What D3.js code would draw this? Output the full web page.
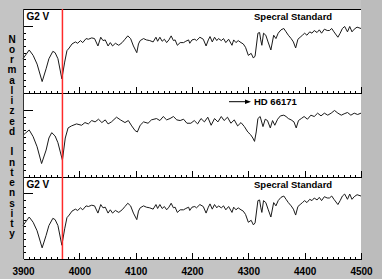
<!DOCTYPE html>
<html>
<head>
<meta charset="UTF-8">
<script src="https://d3js.org/d3.v7.min.js"></script>
<style>
    body { margin: 0; background: #c4c4c4; }
    svg { display: block; }
    text { font-family: "Liberation Sans", Arial, sans-serif; font-weight: bold; fill: #000; }
    .axis path, .axis line { stroke: #000; shape-rendering: crispEdges; }
</style>
</head>
<body>
<div id="chart"></div>
<script>
    // G2 V spectral standard (normalized intensity vs wavelength, Angstrom)
    const stdWave = [3900,3911,3918,3925,3934,3941,3946,3953,3957,3962,3969,3974,3978,3982,3987,3993,3997,4002,4006,4012,4016,4022,4027,4033,4038,4042,4046,4051,4055,4059,4064,4070,4076,4081,4086,4091,4096,4102,4105,4108,4114,4119,4125,4131,4136,4139,4143,4147,4151,4155,4159,4163,4167,4170,4174,4179,4185,4189,4194,4196,4200,4205,4208,4214,4220,4225,4229,4232,4236,4240,4244,4247,4252,4256,4260,4265,4271,4274,4278,4282,4287,4291,4295,4300,4305,4309,4312,4317,4320,4322,4324,4327,4331,4335,4340,4345,4349,4353,4358,4363,4367,4371,4376,4380,4384,4388,4392,4396,4400,4404,4409,4413,4417,4422,4426,4430,4435,4440,4444,4448,4452,4459,4463,4467,4471,4476,4480,4484,4488,4493,4500];
    const stdFlux = [0.51,0.64,0.56,0.43,0.17,0.36,0.51,0.62,0.60,0.51,0.21,0.46,0.63,0.67,0.73,0.76,0.74,0.78,0.75,0.81,0.80,0.82,0.81,0.70,0.83,0.78,0.79,0.70,0.75,0.70,0.74,0.71,0.75,0.80,0.85,0.81,0.70,0.60,0.73,0.78,0.81,0.79,0.78,0.76,0.83,0.77,0.83,0.77,0.80,0.75,0.79,0.85,0.78,0.79,0.71,0.75,0.75,0.77,0.79,0.74,0.79,0.80,0.78,0.83,0.80,0.70,0.79,0.84,0.76,0.83,0.78,0.81,0.78,0.81,0.75,0.80,0.71,0.79,0.75,0.78,0.75,0.73,0.68,0.56,0.59,0.52,0.55,0.89,0.90,0.79,0.71,0.89,0.86,0.76,0.64,0.86,0.81,0.89,0.94,0.96,0.91,0.86,0.81,0.76,0.67,0.80,0.83,0.86,0.89,0.86,0.91,0.89,0.93,0.90,0.94,0.89,0.95,0.93,0.93,0.96,0.91,0.83,0.89,0.96,0.99,0.91,0.99,0.91,0.95,0.98,0.96];

    // HD 66171
    const hdWave = [3900,3904,3911,3918,3925,3933,3941,3946,3951,3957,3962,3970,3975,3980,3986,3995,4004,4010,4016,4022,4028,4034,4040,4046,4051,4057,4066,4073,4081,4087,4093,4099,4103,4108,4114,4122,4128,4137,4143,4149,4155,4161,4167,4173,4179,4185,4191,4198,4204,4210,4216,4222,4228,4234,4240,4246,4252,4257,4263,4269,4275,4281,4287,4293,4299,4304,4308,4311,4314,4317,4321,4326,4330,4334,4339,4343,4347,4352,4357,4363,4367,4371,4376,4381,4385,4389,4394,4399,4405,4411,4417,4423,4429,4435,4441,4447,4453,4459,4465,4470,4476,4482,4488,4494,4500];
    const hdFlux = [0.62,0.65,0.70,0.60,0.45,0.20,0.40,0.58,0.66,0.61,0.51,0.25,0.58,0.73,0.76,0.79,0.77,0.81,0.79,0.84,0.82,0.86,0.81,0.85,0.79,0.82,0.89,0.85,0.81,0.84,0.76,0.69,0.67,0.77,0.82,0.80,0.85,0.87,0.84,0.90,0.85,0.87,0.90,0.85,0.84,0.86,0.80,0.80,0.84,0.79,0.87,0.82,0.89,0.77,0.87,0.82,0.90,0.84,0.89,0.80,0.85,0.76,0.81,0.75,0.67,0.63,0.58,0.53,0.67,0.87,0.90,0.75,0.86,0.84,0.73,0.84,0.77,0.86,0.91,0.92,0.90,0.87,0.85,0.82,0.73,0.84,0.87,0.90,0.86,0.92,0.90,0.95,0.91,0.95,0.92,0.95,0.99,0.95,0.92,0.94,0.96,0.92,0.95,0.93,0.95];

    const tickLabels = [3900, 4000, 4100, 4200, 4300, 4400, 4500];
    const leftLabels = ["G2 V", "", "G2 V"];
    const rightLabels = ["Specral Standard", "HD 66171", "Specral Standard"];
    const yTitle = "Normalized Intensity";
    const markerWave = 3970;

    const width = 382, height = 279;
    const left = 23, right = 361;
    const panelEdges = [9, 93, 177, 259];

    const spectra = [
        d3.zip(stdWave, stdFlux),
        d3.zip(hdWave, hdFlux),
        d3.zip(stdWave, stdFlux)
    ];

    const svg = d3.select("#chart").append("svg")
        .attr("width", width)
        .attr("height", height);

    // darker strip to the right of the plot
    svg.append("rect")
        .attr("x", right).attr("y", 0)
        .attr("width", width - right).attr("height", height)
        .attr("fill", "#bcbcbc");

    svg.append("rect")
        .attr("x", left).attr("y", panelEdges[0])
        .attr("width", right - left)
        .attr("height", panelEdges[3] - panelEdges[0])
        .attr("fill", "#fff");

    const x = d3.scaleLinear().domain([3900, 4500]).range([left, right]);

    spectra.forEach((data, i) => {
        const top = panelEdges[i], bottom = panelEdges[i + 1];
        const y = d3.scaleLinear().domain([0, 1.25]).range([bottom, top]);
        const g = svg.append("g");

        // left ticks (short every 0.1, long at 1.0)
        g.append("g").attr("class", "axis")
            .attr("transform", `translate(${left},0)`)
            .call(d3.axisRight(y).tickValues(d3.range(0.1, 0.95, 0.1)).tickSize(3).tickSizeOuter(0).tickFormat(""))
            .call(a => a.select(".domain").remove());
        g.append("g").attr("class", "axis")
            .attr("transform", `translate(${left},0)`)
            .call(d3.axisRight(y).tickValues([1.0]).tickSize(10).tickFormat(""))
            .call(a => a.select(".domain").remove());

        // bottom ticks, pointing up
        g.append("g").attr("class", "axis")
            .attr("transform", `translate(0,${bottom})`)
            .call(d3.axisBottom(x).tickValues(d3.range(3900, 4501, 10)).tickSize(-2.5).tickSizeOuter(0).tickFormat(""));
        const major = g.append("g").attr("class", "axis")
            .attr("transform", `translate(0,${bottom})`)
            .call(d3.axisBottom(x).tickValues(tickLabels).tickSize(-6).tickSizeOuter(0).tickPadding(9)
                .tickFormat(i === 2 ? d3.format("d") : ""));
        major.selectAll("text").attr("font-size", 10).attr("font-family", null);

        g.append("path")
            .datum(data)
            .attr("fill", "none")
            .attr("stroke", "#1a1a1a")
            .attr("stroke-width", 1)
            .attr("d", d3.line().x(d => x(d[0])).y(d => y(d[1])));

        if (leftLabels[i]) {
            g.append("text").attr("x", left + 3.5).attr("y", top + 11)
                .attr("font-size", 10).text(leftLabels[i]);
        }
        if (i === 1) {
            const ay = top + 8.7;
            g.append("line").attr("x1", 229).attr("x2", 249).attr("y1", ay).attr("y2", ay)
                .attr("stroke", "#000").attr("stroke-width", 1);
            g.append("path").attr("d", `M251,${ay} L245,${ay - 2.2} L245,${ay + 2.2} Z`).attr("fill", "#000");
            g.append("text").attr("x", 254).attr("y", top + 11.7)
                .attr("font-size", 9.5).text(rightLabels[i]);
        } else {
            g.append("text").attr("x", 254).attr("y", top + 11)
                .attr("font-size", 9.5).text(rightLabels[i]);
        }
    });

    // frame: top and left lines
    svg.append("line").attr("x1", left).attr("x2", right)
        .attr("y1", panelEdges[0] + 0.5).attr("y2", panelEdges[0] + 0.5)
        .attr("stroke", "#000");
    svg.append("line").attr("x1", left + 0.5).attr("x2", left + 0.5)
        .attr("y1", panelEdges[0]).attr("y2", panelEdges[3])
        .attr("stroke", "#333");

    // red marker line
    svg.append("line")
        .attr("x1", x(markerWave)).attr("x2", x(markerWave))
        .attr("y1", panelEdges[0]).attr("y2", panelEdges[3])
        .attr("stroke", "#ff2a2a").attr("stroke-width", 1.5);

    // vertical stacked axis title
    svg.append("g").selectAll("text")
        .data(yTitle.split(""))
        .join("text")
        .attr("x", 12)
        .attr("y", (d, i) => 42.5 + i * 10.25)
        .attr("text-anchor", "middle")
        .attr("font-size", 10)
        .text(d => d);
</script>
</body>
</html>
